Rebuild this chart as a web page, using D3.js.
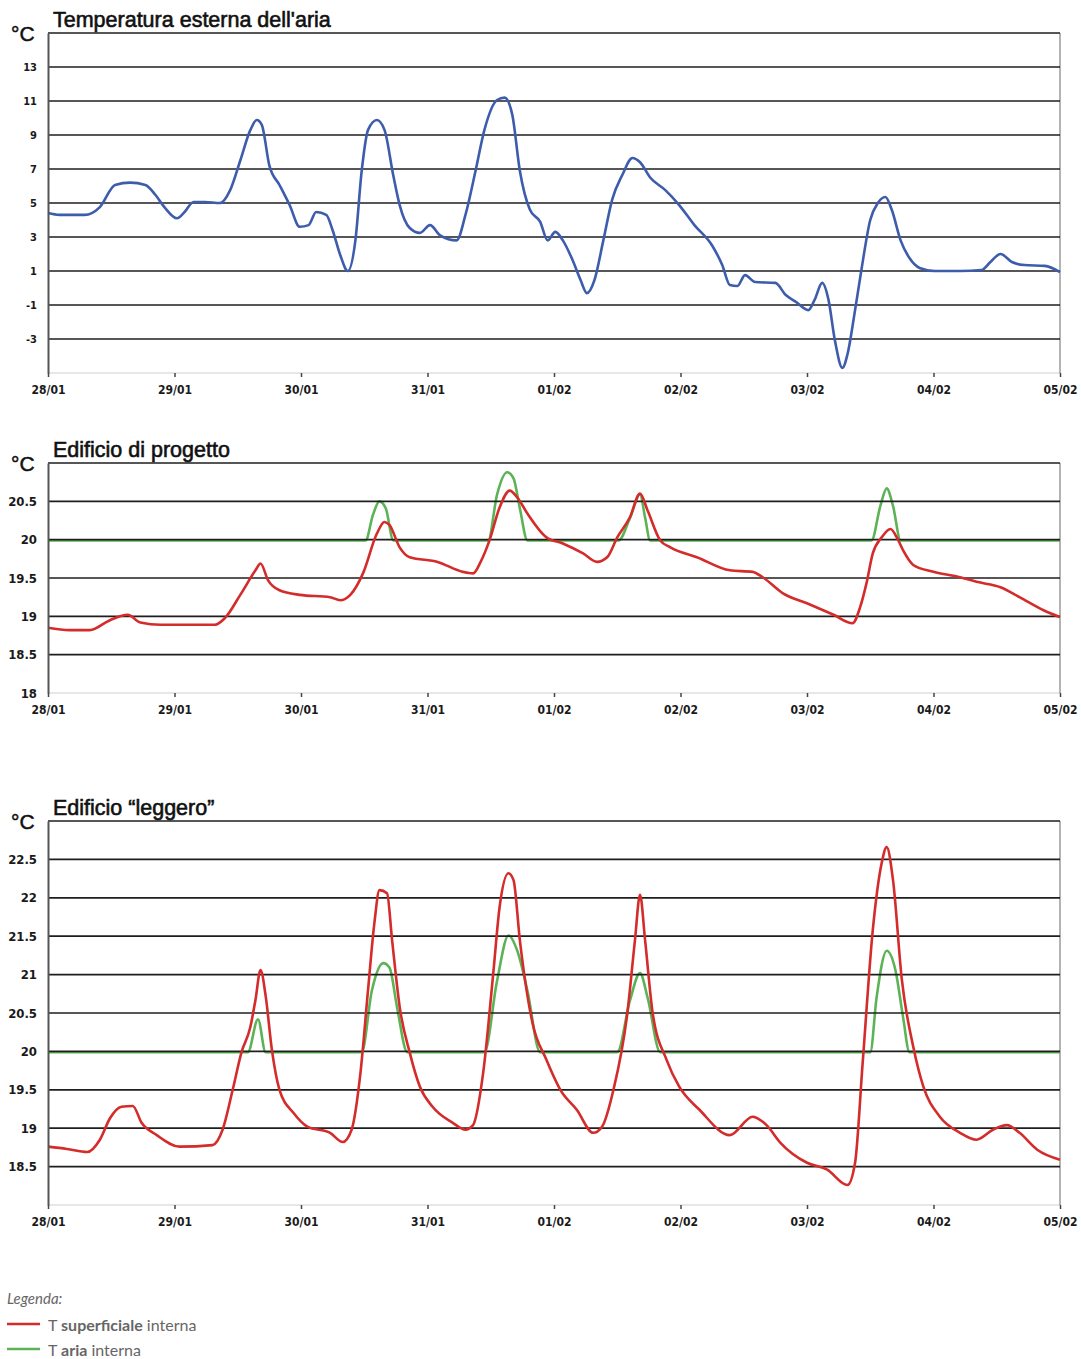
<!DOCTYPE html>
<html>
<head>
<meta charset="utf-8">
<script src="https://cdn.jsdelivr.net/npm/d3@7"></script>
<style>
  body { margin: 0; background: #fff; }
  .tick-lbl { font-family: "Liberation Sans Narrow", "Arial Narrow", "DejaVu Sans Condensed", sans-serif; font-weight: bold; fill: #1a1a1a; }
  .title { font-family: "Liberation Sans", Arial, sans-serif; fill: #111; }
  .legend { font-family: Lato, "Open Sans", sans-serif; fill: #666; }
</style>
</head>
<body>
<div id="chart-area"></div>
<script>
// x axis: days since 28/01 00:00
const dayLabels = ["28/01", "29/01", "30/01", "31/01", "01/02", "02/02", "03/02", "04/02", "05/02"]

// Temperatura esterna dell'aria
const extDays = [0, 0.09, 0.29, 0.41, 0.53, 0.65, 0.77, 0.85, 0.92, 1.02, 1.08, 1.15, 1.24, 1.36, 1.44, 1.52, 1.60, 1.65, 1.69, 1.75,
  1.83, 1.91, 1.99, 2.06, 2.12, 2.20, 2.25, 2.31, 2.37, 2.43, 2.48, 2.53, 2.60, 2.66, 2.73, 2.78, 2.86, 2.94, 3.02, 3.10,
  3.23, 3.30, 3.38, 3.45, 3.55, 3.61, 3.67, 3.73, 3.81, 3.89, 3.95, 4.01, 4.07, 4.14, 4.21, 4.26, 4.32, 4.39, 4.46, 4.54,
  4.62, 4.68, 4.76, 4.88, 4.99, 5.11, 5.25, 5.33, 5.39, 5.45, 5.51, 5.59, 5.75, 5.83, 5.91, 6.01, 6.06, 6.12, 6.17, 6.22,
  6.28, 6.32, 6.38, 6.43, 6.50, 6.56, 6.62, 6.67, 6.74, 6.81, 6.89, 7.01, 7.21, 7.38, 7.45, 7.53, 7.62, 7.72, 7.88, 8.00]
const extTemp = [4.41, 4.3, 4.3, 4.76, 6.06, 6.2, 6.06, 5.47, 4.76, 4.1, 4.47, 5.06, 5.06, 5.0, 5.76, 7.5, 9.3, 9.88, 9.6, 7.2,
  6.06, 4.88, 3.6, 3.7, 4.47, 4.3, 3.4, 1.94, 1.0, 2.8, 6.9, 9.3, 9.88, 9.3, 6.6, 4.88, 3.53, 3.24, 3.7, 3.1,
  2.8, 4.3, 6.9, 9.3, 11.06, 11.2, 10.2, 6.9, 4.6, 3.9, 2.8, 3.3, 2.8, 1.76, 0.47, -0.3, 0.47, 2.8, 5.2, 6.65,
  7.65, 7.4, 6.5, 5.76, 4.88, 3.7, 2.5, 1.35, 0.18, 0.12, 0.76, 0.35, 0.3, -0.4, -0.8, -1.3, -0.7, 0.3, -0.7, -3.06,
  -4.7, -3.9, -1.3, 1.06, 4.0, 5.0, 5.35, 4.6, 2.8, 1.76, 1.18, 1.0, 1.0, 1.06, 1.53, 2.0, 1.53, 1.35, 1.3, 0.94]

// Edificio di progetto
const progSupDays = [0, 0.17, 0.33, 0.49, 0.63, 0.73, 0.89, 1.12, 1.32, 1.40, 1.52, 1.64, 1.68, 1.74, 1.83, 1.99, 2.23, 2.31, 2.39, 2.49,
  2.60, 2.66, 2.70, 2.78, 2.86, 3.08, 3.28, 3.36, 3.42, 3.49, 3.57, 3.65, 3.71, 3.79, 3.94, 4.07, 4.23, 4.34, 4.42, 4.50,
  4.60, 4.68, 4.74, 4.84, 4.92, 5.13, 5.39, 5.57, 5.65, 5.81, 6.00, 6.21, 6.36, 6.42, 6.47, 6.52, 6.59, 6.66, 6.71, 6.76,
  6.84, 7.00, 7.21, 7.34, 7.53, 7.68, 7.87, 8.00]
const progSup = [18.85, 18.82, 18.82, 18.95, 19.02, 18.92, 18.89, 18.89, 18.89, 18.98, 19.28, 19.60, 19.69, 19.47, 19.34, 19.28, 19.25, 19.21, 19.28, 19.56,
  20.08, 20.23, 20.19, 19.90, 19.77, 19.71, 19.58, 19.56, 19.71, 19.99, 20.42, 20.64, 20.55, 20.34, 20.03, 19.95, 19.82, 19.71, 19.77, 20.03,
  20.29, 20.60, 20.38, 19.99, 19.90, 19.77, 19.60, 19.58, 19.51, 19.30, 19.17, 19.02, 18.91, 19.12, 19.43, 19.82, 20.03, 20.14, 20.03, 19.86,
  19.67, 19.58, 19.51, 19.45, 19.38, 19.25, 19.08, 18.99]
const progAriaDays = [0, 2.51, 2.57, 2.62, 2.67, 2.73, 3.48, 3.55, 3.63, 3.68, 3.73, 3.79, 4.51, 4.60, 4.68, 4.72, 4.76, 6.51, 6.58, 6.63, 6.68, 6.74, 8.00]
const progAria = [20, 20, 20.34, 20.51, 20.42, 20, 20, 20.6, 20.89, 20.81, 20.42, 20, 20, 20.29, 20.6, 20.3, 20, 20, 20.45, 20.68, 20.45, 20, 20]

// Edificio "leggero"
const legSupDays = [0, 0.15, 0.31, 0.41, 0.49, 0.58, 0.67, 0.74, 0.86, 1.04, 1.30, 1.38, 1.46, 1.53, 1.60, 1.64, 1.68, 1.72, 1.77, 1.83,
  1.94, 2.05, 2.23, 2.33, 2.40, 2.47, 2.53, 2.58, 2.62, 2.68, 2.72, 2.78, 2.86, 2.94, 3.04, 3.20, 3.30, 3.36, 3.44, 3.52,
  3.57, 3.64, 3.68, 3.73, 3.83, 3.94, 4.05, 4.18, 4.31, 4.38, 4.47, 4.58, 4.64, 4.68, 4.72, 4.78, 4.89, 4.99, 5.15, 5.39,
  5.57, 5.68, 5.79, 6.00, 6.16, 6.32, 6.38, 6.44, 6.52, 6.59, 6.63, 6.68, 6.75, 6.84, 6.92, 7.05, 7.21, 7.34, 7.47, 7.58,
  7.68, 7.82, 8.00]
const legSup = [18.76, 18.73, 18.69, 18.85, 19.13, 19.28, 19.29, 19.07, 18.91, 18.76, 18.78, 18.98, 19.50, 19.99, 20.32, 20.67, 21.06, 20.73, 20.02, 19.50,
  19.20, 19.02, 18.94, 18.82, 18.98, 19.72, 20.80, 21.67, 22.10, 22.06, 21.45, 20.58, 19.98, 19.54, 19.28, 19.07, 18.98, 19.04, 19.72, 21.02,
  21.88, 22.32, 22.23, 21.45, 20.37, 19.89, 19.50, 19.24, 18.94, 19.02, 19.50, 20.50, 21.45, 22.04, 21.45, 20.50, 19.89, 19.54, 19.24, 18.91,
  19.15, 19.04, 18.81, 18.55, 18.46, 18.26, 18.55, 19.85, 21.58, 22.45, 22.66, 22.23, 20.93, 20.06, 19.54, 19.15, 18.94, 18.85, 18.98, 19.04,
  18.94, 18.72, 18.59]
const legAriaDays = [0, 1.58, 1.66, 1.72, 2.48, 2.56, 2.65, 2.70, 2.76, 2.84, 3.45, 3.55, 3.64, 3.71, 3.79, 3.89, 4.50, 4.60, 4.68, 4.74, 4.84, 6.50, 6.55, 6.63, 6.70, 6.76, 6.81, 8.00]
const legAria = [20, 20, 20.43, 20, 20, 20.8, 21.16, 21.1, 20.58, 20, 20, 20.93, 21.52, 21.32, 20.8, 20, 20, 20.67, 21.03, 20.71, 20, 20, 20.71, 21.32, 21.06, 20.45, 20, 20]

// y tick labels and gridlines per panel
const extTicks = [-3, -1, 1, 3, 5, 7, 9, 11, 13]
const extGrid = [-3, -1, 1, 3, 5, 7, 9, 11, 13, 15]
const progTicks = [18, 18.5, 19, 19.5, 20, 20.5]
const progGrid = [18.5, 19, 19.5, 20, 20.5, 21]
const legTicks = [18.5, 19, 19.5, 20, 20.5, 21, 21.5, 22, 22.5]
const legGrid = [18.5, 19, 19.5, 20, 20.5, 21, 21.5, 22, 22.5, 23]

const COLORS = { ext: "#3d5cab", sup: "#d42b2b", aria: "#5cb356" }
const LEFT = 48, RIGHT = 1060

const svg = d3.select("#chart-area").append("svg")
  .attr("width", 1081)
  .attr("height", 1359)

const x = d3.scaleLinear().domain([0, 8]).range([LEFT, RIGHT])

const zip = (days, vals) => days.map((d, i) => ({ d: d, v: vals[i] }))

function drawPanel(p) {
  const y = d3.scaleLinear().domain(p.domain).range([p.bottom, p.top])
  const g = svg.append("g")
  const line = d3.line().x(d => x(d.d)).y(d => y(d.v)).curve(d3.curveMonotoneX)

  // light frame: bottom + right border
  g.append("line")
    .attr("x1", LEFT).attr("x2", RIGHT)
    .attr("y1", p.bottom).attr("y2", p.bottom)
    .attr("stroke", "#cfcfcf").attr("stroke-width", 1.2)
  g.append("line")
    .attr("x1", RIGHT).attr("x2", RIGHT)
    .attr("y1", p.top).attr("y2", p.bottom)
    .attr("stroke", "#9a9a9a").attr("stroke-width", 1.5)

  // green (aria) goes under the gridlines
  if (p.aria) {
    g.append("path")
      .datum(p.aria)
      .attr("d", line)
      .attr("fill", "none")
      .attr("stroke", COLORS.aria)
      .attr("stroke-width", 2.6)
      .attr("transform", "translate(0,0.8)")
  }

  // gridlines
  g.selectAll(".grid").data(p.grid).enter().append("line")
    .attr("class", "grid")
    .attr("x1", LEFT).attr("x2", RIGHT)
    .attr("y1", d => y(d)).attr("y2", d => y(d))
    .attr("stroke", "#1e1e1e").attr("stroke-width", 1.7)

  // main series
  g.append("path")
    .datum(p.main)
    .attr("d", line)
    .attr("fill", "none")
    .attr("stroke", p.color)
    .attr("stroke-width", 2.6)
    .attr("stroke-linejoin", "round")

  // left axis
  const yAxis = g.append("g")
    .attr("transform", `translate(${LEFT},0)`)
    .call(d3.axisLeft(y).tickValues(p.ticks).tickSize(0).tickPadding(11).tickFormat(d => String(d)))
  yAxis.select(".domain").attr("stroke", "#555").attr("stroke-width", 2)
  yAxis.selectAll("text").attr("class", "tick-lbl").attr("font-size", p.tickFont)

  // bottom axis
  const xAxis = g.append("g")
    .attr("transform", `translate(0,${p.bottom})`)
    .call(d3.axisBottom(x).tickValues(d3.range(0, 9)).tickSize(4).tickPadding(8).tickFormat((d, i) => dayLabels[i]))
  xAxis.select(".domain").remove()
  xAxis.selectAll(".tick line").attr("stroke", "#444").attr("stroke-width", 1.5)
  xAxis.selectAll("text").attr("class", "tick-lbl").attr("font-size", "12px")

  // title and unit
  g.append("text")
    .attr("class", "title")
    .attr("x", 53).attr("y", p.top - 6)
    .attr("font-size", "21.5px")
    .attr("stroke", "#111").attr("stroke-width", 0.6)
    .text(p.title)
  g.append("text")
    .attr("class", "title")
    .attr("x", 11).attr("y", p.top + 8)
    .attr("font-size", "21px")
    .attr("stroke", "#111").attr("stroke-width", 0.5)
    .text("°C")
}

drawPanel({
  top: 33, bottom: 373, domain: [-5, 15],
  ticks: extTicks, grid: extGrid, tickFont: "11px",
  title: "Temperatura esterna dell'aria",
  main: zip(extDays, extTemp), color: COLORS.ext
})

drawPanel({
  top: 463, bottom: 693, domain: [18, 21],
  ticks: progTicks, grid: progGrid, tickFont: "13px",
  title: "Edificio di progetto",
  main: zip(progSupDays, progSup), aria: zip(progAriaDays, progAria), color: COLORS.sup
})

drawPanel({
  top: 821, bottom: 1205, domain: [18, 23],
  ticks: legTicks, grid: legGrid, tickFont: "13px",
  title: "Edificio \u201cleggero\u201d",
  main: zip(legSupDays, legSup), aria: zip(legAriaDays, legAria), color: COLORS.sup
})

// legend
const legend = svg.append("g").attr("class", "legend")
legend.append("text")
  .attr("x", 7).attr("y", 1304)
  .attr("font-size", "15px").attr("font-style", "italic")
  .text("Legenda:")

const legendItems = [
  { color: COLORS.sup, bold: "superficiale", y: 1325 },
  { color: COLORS.aria, bold: "aria", y: 1350 }
]
legendItems.forEach(item => {
  legend.append("line")
    .attr("x1", 7).attr("x2", 40)
    .attr("y1", item.y - 1).attr("y2", item.y - 1)
    .attr("stroke", item.color).attr("stroke-width", 2.5)
  const t = legend.append("text")
    .attr("x", 48).attr("y", item.y + 6)
    .attr("font-size", "16px")
  t.append("tspan").text("T ")
  t.append("tspan").attr("font-weight", "bold").text(item.bold)
  t.append("tspan").text(" interna")
})
</script>
</body>
</html>
